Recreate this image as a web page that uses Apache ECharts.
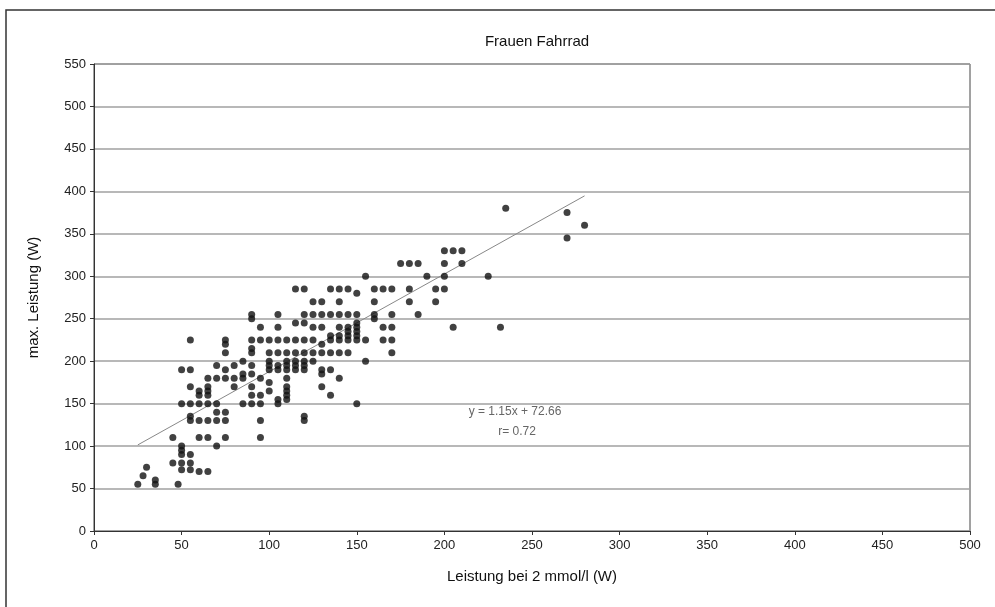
<!DOCTYPE html>
<html>
<head>
<meta charset="utf-8">
<script src="https://cdn.jsdelivr.net/npm/echarts@6/dist/echarts.min.js"></script>
<style>html,body{margin:0;padding:0;background:#fff}#c{width:995px;height:607px}</style>
</head>
<body>
<div id="c"></div>
<script>
// Leistung bei 2 mmol/l (W) — low group
const lowX = [25,28,30,35,35,48,45,45,50,50,50,50,50,55,55,55,60,65,70,60,65,75,50,55,60,65,70,55,55,60,65,70,75,70,75,60,65,60,65,55,65,80,65,70,75,50,55,75,70,80,85,55,75,75,75,90,90,95,105,90,95,90,90,100,100,105,110,90,90,90,85,80,85,95,100,105,110,110,85,90,95,95,95,90,100,95];
const lowY = [55,65,75,55,60,55,80,110,72,80,90,95,100,72,80,90,70,70,100,110,110,110,150,150,150,150,150,130,135,130,130,130,130,140,140,160,160,165,165,170,170,170,180,180,180,190,190,190,195,195,200,225,225,220,210,255,250,240,240,225,225,210,215,200,195,195,195,195,185,170,180,180,185,160,165,155,165,155,150,150,150,130,110,160,175,180];
// middle group
const midX = [115,120,135,140,145,150,125,130,140,105,120,125,130,135,140,145,150,115,120,150,140,145,150,100,105,110,115,120,125,135,140,145,150,155,100,105,110,115,120,125,130,135,140,145,110,115,120,125,115,120,155,100,105,110,115,120,130,135,110,140,130,110,130,110,135,105,150,120,120,130,135,140,145,150,145,150,130,125];
const midY = [285,285,285,285,285,280,270,270,270,255,255,255,255,255,255,255,255,245,245,245,240,240,240,225,225,225,225,225,225,225,225,225,225,225,210,210,210,210,210,210,210,210,210,210,200,200,200,200,195,195,200,190,190,190,190,190,190,190,180,180,185,170,170,160,160,150,150,135,130,220,230,230,230,230,235,235,240,240];
// high group
const highX = [155,175,180,185,200,210,200,205,210,190,200,225,160,165,170,180,195,200,160,180,195,160,170,185,160,165,170,205,232,165,170,170,235,270,270,280];
const highY = [300,315,315,315,315,315,330,330,330,300,300,300,285,285,285,285,285,285,270,270,270,255,255,255,250,240,240,240,240,225,225,210,380,375,345,360];
// trend line y = 1.15x + 72.66 endpoints
const trendX = [25, 280];
const trendY = [101.4, 394.7];
const xTicks = [0,50,100,150,200,250,300,350,400,450,500];
const yTicks = [0,50,100,150,200,250,300,350,400,450,500,550];

const allX = lowX.concat(midX, highX);
const allY = lowY.concat(midY, highY);
const pts = allX.map((x,i)=>[x, allY[i]]);
const trend = trendX.map((x,i)=>[x, trendY[i]]);

const chart = echarts.init(document.getElementById('c'), null, {renderer:'canvas'});
const font = 'Liberation Sans, Arial, sans-serif';
chart.setOption({
  animation:false,
  backgroundColor:'#fff',
  textStyle:{fontFamily:font},
  title:{text:'Frauen Fahrrad', left:532, textAlign:'center', top:29,
    textStyle:{fontSize:15, fontWeight:'normal', color:'#111', fontFamily:font}},
  grid:{left:94, right:25, top:64, bottom:76, show:true, borderColor:'#444', borderWidth:1, backgroundColor:'#fff'},
  xAxis:{type:'value', min:xTicks[0], max:xTicks[xTicks.length-1], interval:50,
    name:'Leistung bei 2 mmol/l (W)', nameLocation:'middle', nameGap:38,
    nameTextStyle:{fontSize:15, color:'#111', fontFamily:font},
    axisLine:{show:true, lineStyle:{color:'#333', width:1}},
    axisTick:{show:true, length:4, lineStyle:{color:'#333'}},
    axisLabel:{fontSize:13, color:'#222', margin:8, fontFamily:font},
    splitLine:{show:false}},
  yAxis:{type:'value', min:yTicks[0], max:yTicks[yTicks.length-1], interval:50,
    name:'max. Leistung (W)', nameLocation:'middle', nameGap:53,
    nameTextStyle:{fontSize:15, color:'#111', fontFamily:font},
    axisLine:{show:true, lineStyle:{color:'#333', width:1}},
    axisTick:{show:true, length:4, lineStyle:{color:'#333'}},
    axisLabel:{fontSize:13, color:'#222', margin:8, fontFamily:font},
    splitLine:{show:true, lineStyle:{color:'#a0a0a0', width:1.5}}},
  series:[
    {type:'line', data:trend, symbol:'none', lineStyle:{color:'#888', width:1}, z:1, silent:true},
    {type:'scatter', data:pts, symbol:'circle', symbolSize:7, itemStyle:{color:'#111'}, z:3}
  ],
  graphic:[
    {type:'rect', shape:{x:6, y:10, width:1000, height:620}, style:{fill:'none', stroke:'#333', lineWidth:1.5}, silent:true},
    {type:'text', x:515, y:406, style:{text:'y = 1.15x + 72.66', fill:'#666', font:'12px '+font, textAlign:'center'}},
    {type:'text', x:517, y:426, style:{text:'r= 0.72', fill:'#666', font:'12px '+font, textAlign:'center'}}
  ]
});
</script>
</body>
</html>
